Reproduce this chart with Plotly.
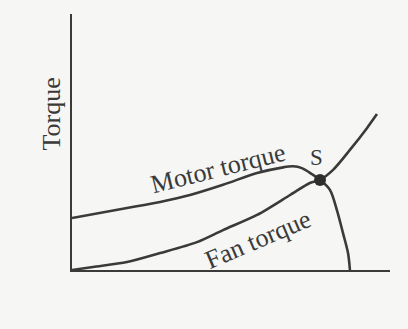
import plotly.graph_objects as go

# Motor torque characteristic (speed, torque) in relative units
motor_speed = [0, 17.3, 27.7, 37.1, 47.5, 58.2, 66.0, 69.5, 72.3, 75.5, 78.0, 81.1, 83.3, 85.2, 86.8, 87.4]
motor_torque = [20.3, 24.2, 26.6, 29.3, 33.3, 37.9, 40.0, 40.5, 39.8, 37.4, 35.2, 31.3, 23.4, 14.5, 6.6, 0]

# Fan (load) torque characteristic
fan_speed = [0, 6.6, 17.3, 27.7, 39.3, 47.5, 58.2, 68.6, 74.8, 78.0, 82.1, 87.4, 92.8, 95.9]
fan_torque = [0, 1.2, 3.1, 6.6, 10.9, 15.6, 21.5, 29.3, 34.0, 35.2, 39.1, 46.9, 55.5, 60.9]

# Stable operating point where the two curves cross
op_speed = [78.0]
op_torque = [35.2]

INK = "#3a3a3a"
FONT = "Liberation Serif"

fig = go.Figure()
fig.add_trace(go.Scatter(x=motor_speed, y=motor_torque, mode="lines",
                         line=dict(color=INK, width=2.6, shape="spline", smoothing=0.9),
                         hoverinfo="skip"))
fig.add_trace(go.Scatter(x=fan_speed, y=fan_torque, mode="lines",
                         line=dict(color=INK, width=2.6, shape="spline", smoothing=0.8),
                         hoverinfo="skip"))
fig.add_trace(go.Scatter(x=op_speed, y=op_torque, mode="markers",
                         marker=dict(color="#2e2e2e", size=12, line=dict(width=0)),
                         hoverinfo="skip"))

txt = dict(family=FONT, size=26, color=INK)
fig.add_annotation(x=45.9, y=39.8, text="Motor torque", showarrow=False,
                   textangle=-14, font=txt)
fig.add_annotation(x=58.5, y=12.0, text="Fan torque", showarrow=False,
                   textangle=-23, font=txt)
fig.add_annotation(x=77.0, y=44.0, text="S", showarrow=False,
                   font=dict(family=FONT, size=23, color=INK))
fig.add_annotation(x=48.7, y=-8.6, text="Speed", showarrow=False, font=txt)
fig.add_annotation(x=-0.064, y=0.61, xref="paper", yref="paper", text="Torque",
                   xanchor="center", yanchor="middle",
                   showarrow=False, textangle=-90, font=txt)

axis = dict(range=[0, 100], showline=True, linecolor=INK, linewidth=2.4,
            showgrid=False, zeroline=False, ticks="", showticklabels=False, fixedrange=True)
fig.update_layout(
    width=408, height=329,
    margin=dict(l=72, r=18, t=14, b=59),
    paper_bgcolor="#f6f6f4", plot_bgcolor="#f6f6f4",
    showlegend=False,
    xaxis=axis, yaxis=axis,
)
fig.write_html("out.html", config=dict(displayModeBar=False))
